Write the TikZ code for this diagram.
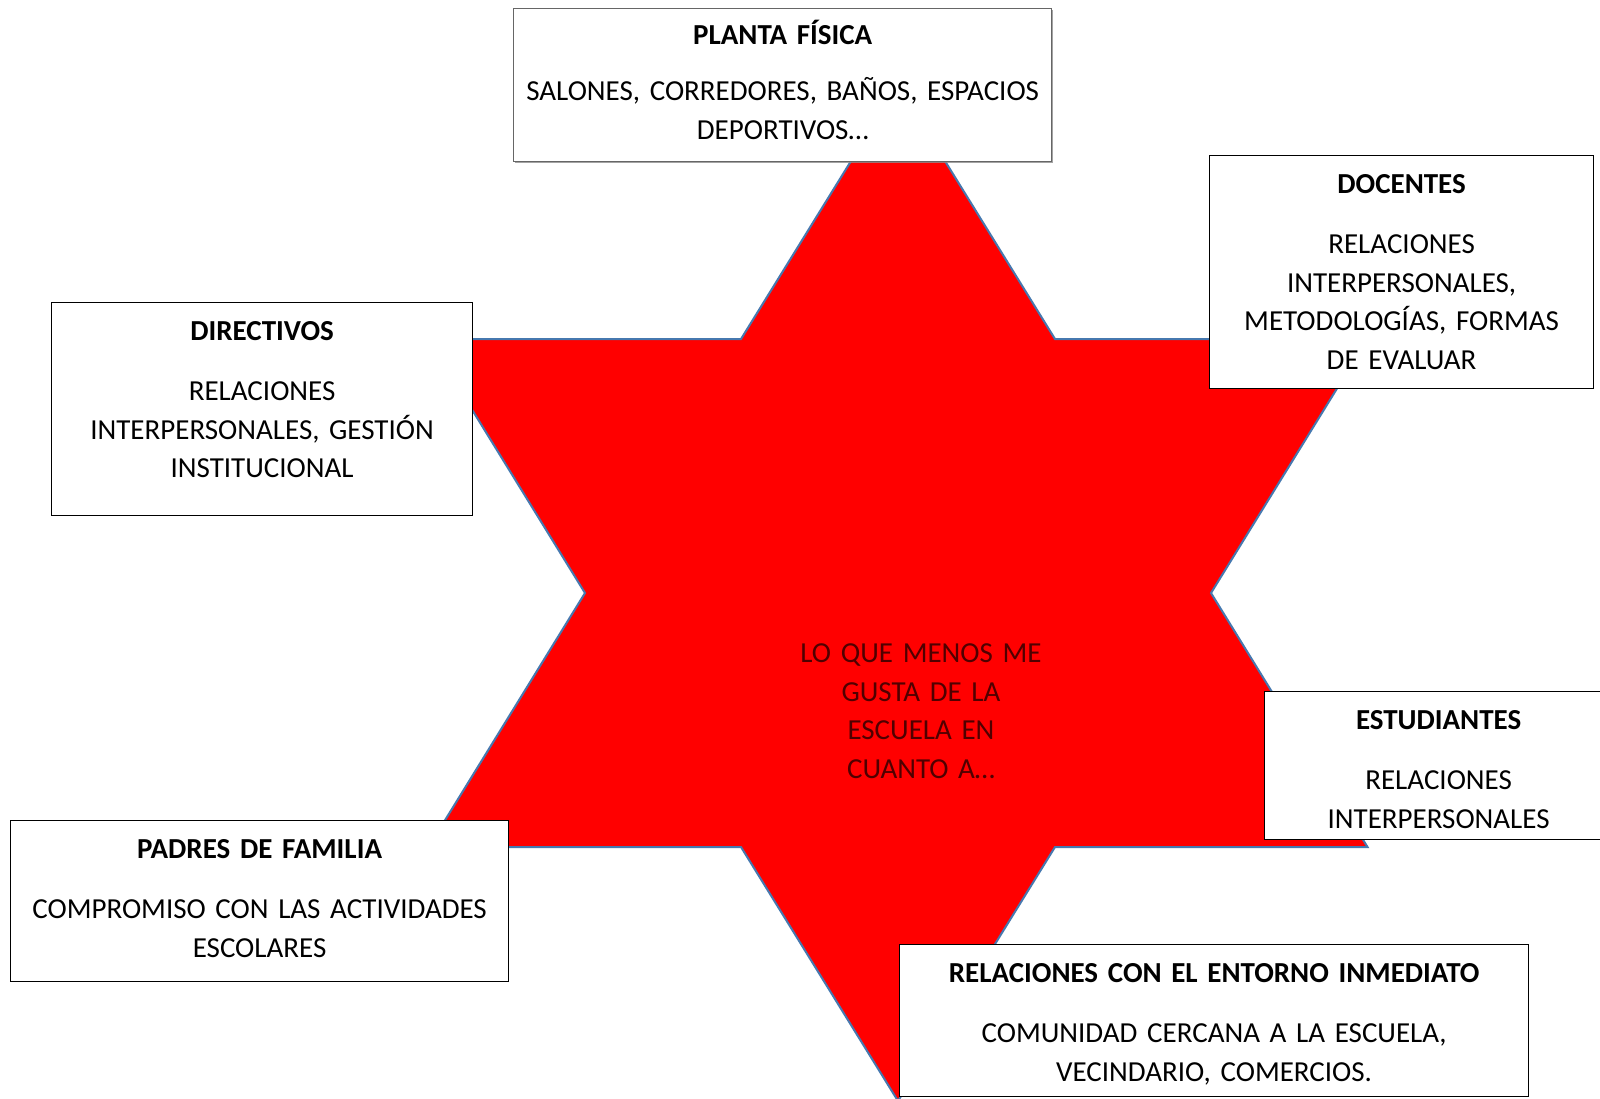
\documentclass[tikz,border=0pt]{standalone}
\usepackage{fontspec}
\setmainfont{Carlito}
\usetikzlibrary{shadows}
\definecolor{starline}{RGB}{70,120,175}
\definecolor{centertxt}{RGB}{80,0,0}
\begin{document}
\begin{tikzpicture}[x=1pt,y=-1pt,
  box/.style={draw=black, line width=1.2pt, fill=white, inner sep=0pt, anchor=north west},
  planbox/.style={draw=black!60, line width=1.4pt, fill=white, inner sep=0pt, anchor=north west,
    drop shadow={shadow xshift=1.5pt, shadow yshift=-1.5pt, fill=black!45, opacity=0.8}},
  txt/.style={text width=700pt, align=center, inner sep=0pt, anchor=base,
    font=\fontsize{29}{38.5}\selectfont},
  starshape/.style={fill=red, draw=starline, line width=2pt, line join=miter}
]
\useasboundingbox (0,0) rectangle (1600,1098);
\fill[white] (0,0) rectangle (1600,1098);

% star of six points
\coordinate (c) at (898,593);
\draw[starshape] (898,85) -- (1055,339) -- (1367.5,339) -- (1211,593) -- (1367.5,847)
  -- (1055,847) -- (898,1101) -- (741,847) -- (428.5,847) -- (585,593)
  -- (428.5,339) -- (741,339) -- cycle;

% boxes
\node[planbox, minimum width=538pt, minimum height=153pt] (planta) at (513,8) {};
\node[box, minimum width=384pt, minimum height=233pt] (docentes) at (1209,155) {};
\node[box, minimum width=421pt, minimum height=213pt] (directivos) at (51,302) {};
\node[box, minimum width=348pt, minimum height=148pt] (estudiantes) at (1264,691) {};
\node[box, minimum width=498pt, minimum height=161pt] (padres) at (10,820) {};
\node[box, minimum width=629pt, minimum height=152pt] (entorno) at (899,944) {};

% texts
\node[txt, yshift=-36.5pt] (plantaT) at (planta.north)
  {\textbf{PLANTA FÍSICA}\\[17.5pt]SALONES, CORREDORES, BAÑOS, ESPACIOS\\DEPORTIVOS…};
\node[txt, yshift=-38.5pt] (docentesT) at (docentes.north)
  {\textbf{DOCENTES}\\[21.5pt]RELACIONES\\INTERPERSONALES,\\METODOLOGÍAS, FORMAS\\DE EVALUAR};
\node[txt, yshift=-38.5pt] (directivosT) at (directivos.north)
  {\textbf{DIRECTIVOS}\\[21.5pt]RELACIONES\\INTERPERSONALES, GESTIÓN\\INSTITUCIONAL};
\node[txt, yshift=-38.5pt] (estudiantesT) at (estudiantes.north)
  {\textbf{ESTUDIANTES}\\[21.5pt]RELACIONES\\INTERPERSONALES};
\node[txt, yshift=-38.5pt] (padresT) at (padres.north)
  {\textbf{PADRES DE FAMILIA}\\[21.5pt]COMPROMISO CON LAS ACTIVIDADES\\ESCOLARES};
\node[txt, yshift=-38.5pt] (entornoT) at (entorno.north)
  {\textbf{RELACIONES CON EL ENTORNO INMEDIATO}\\[21.5pt]COMUNIDAD CERCANA A LA ESCUELA,\\VECINDARIO, COMERCIOS.};

\node[txt, text=centertxt] (centro) at (921,662.5)
  {LO QUE MENOS ME\\GUSTA DE LA\\ESCUELA EN\\CUANTO A…};
\end{tikzpicture}
\end{document}
